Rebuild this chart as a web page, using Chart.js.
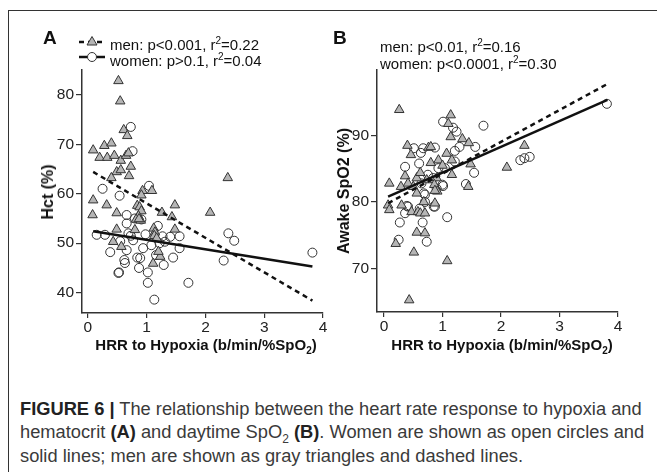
<!DOCTYPE html>
<html>
<head>
<meta charset="utf-8">
<script src="https://cdn.jsdelivr.net/npm/chart.js@4.4.0/dist/chart.umd.min.js"></script>
<style>
  body { margin: 0; background: #fff; font-family: "Liberation Sans", Arial, sans-serif; }
  #page { position: relative; width: 657px; height: 472px; overflow: hidden; }
  .frame-top { position: absolute; left: 8px; top: 10px; width: 660px; height: 0; border-top: 1.5px solid #333; }
  .frame-left { position: absolute; left: 8px; top: 10px; width: 0; height: 480px; border-left: 1.5px solid #333; }
  .canvas-box { position: absolute; top: 0; height: 340px; }
  .lbl { position: absolute; white-space: nowrap; color: #111; }
  .panel { font-weight: bold; font-size: 19px; }
  .leg { font-size: 15px; line-height: 16px; }
  .ytitle { font-weight: bold; font-size: 16px; transform: translate(-50%, -50%) rotate(-90deg); }
  .xtitle { font-weight: bold; font-size: 15px; transform: translateX(-50%); }
  .caption { position: absolute; left: 20px; font-size: 18.3px; color: #3a3a3a; white-space: nowrap; }
  .caption b { color: #222; }
</style>
</head>
<body>
<div id="page">
  <div class="frame-top"></div>
  <div class="frame-left"></div>

  <div class="canvas-box" style="left:0; width:330px;"><canvas id="chartA"></canvas></div>
  <div class="canvas-box" style="left:300px; width:325px;"><canvas id="chartB"></canvas></div>

  <!-- rótulos dos painéis -->
  <div class="lbl panel" style="left:43px; top:27px;">A</div>
  <div class="lbl panel" style="left:333px; top:27px;">B</div>

  <!-- legenda A -->
  <svg style="position:absolute; left:76px; top:32px;" width="34" height="34">
    <line x1="3" y1="10" x2="29" y2="10" stroke="#111" stroke-width="2.5" stroke-dasharray="5,4"/>
    <polygon points="16,4.5 21,13 11,13" fill="#b5b5b5" stroke="#333" stroke-width="1"/>
    <line x1="3" y1="25" x2="29" y2="25" stroke="#111" stroke-width="2.5"/>
    <circle cx="16" cy="25" r="4.5" fill="#fff" stroke="#333" stroke-width="1"/>
  </svg>
  <div class="lbl leg" style="left:110px; top:33px;">men: p&lt;0.001, r<sup style="font-size:10px">2</sup>=0.22</div>
  <div class="lbl leg" style="left:110px; top:49px;">women: p&gt;0.1, r<sup style="font-size:10px">2</sup>=0.04</div>

  <!-- legenda B -->
  <div class="lbl leg" style="left:380px; top:35px;">men: p&lt;0.01, r<sup style="font-size:10px">2</sup>=0.16</div>
  <div class="lbl leg" style="left:380px; top:52px;">women: p&lt;0.0001, r<sup style="font-size:10px">2</sup>=0.30</div>

  <!-- títulos dos eixos -->
  <div class="lbl ytitle" style="left:48px; top:192px;">Hct (%)</div>
  <div class="lbl ytitle" style="left:344px; top:191px;">Awake SpO2 (%)</div>
  <div class="lbl xtitle" style="left:206px; top:336px;">HRR to Hypoxia (b/min/%SpO<sub style="font-size:10px">2</sub>)</div>
  <div class="lbl xtitle" style="left:502px; top:336px;">HRR to Hypoxia (b/min/%SpO<sub style="font-size:10px">2</sub>)</div>

  <!-- legenda da figura -->
  <div class="caption" style="top:398px;"><b>FIGURE 6 |</b> The relationship between the heart rate response to hypoxia and</div>
  <div class="caption" style="top:421px;">hematocrit <b>(A)</b> and daytime SpO<sub style="font-size:12px">2</sub> <b>(B)</b>. Women are shown as open circles and</div>
  <div class="caption" style="top:445px;">solid lines; men are shown as gray triangles and dashed lines.</div>
</div>

<script>
// Painel A: HRR x Hct
const hctMenX = [0.52, 0.55, 0.61, 0.67, 0.09, 0.28, 0.40, 0.20, 0.33, 0.45, 0.56, 0.65, 0.69, 0.49, 0.56, 0.40, 0.70, 0.73, 2.38,
  0.09, 0.32, 0.08, 0.49, 0.93, 1.09, 1.48, 2.08, 1.26, 1.43, 0.84, 0.88, 0.91, 0.86, 0.82, 0.90, 0.87,
  0.49, 0.43, 0.57, 0.80, 1.12, 1.14, 1.13, 1.17, 1.23, 1.11, 1.48, 1.20, 0.91];
const hctMenY = [82.8, 78.7, 72.9, 71.7, 68.8, 69.7, 70.2, 67.3, 67.3, 67.7, 66.7, 67.7, 68.2, 64.4, 64.8, 63.2, 63.6, 65.5, 63.2,
  58.7, 57.7, 55.7, 56.1, 60.6, 60.6, 57.7, 56.2, 56.2, 55.3, 57.6, 57.3, 56.5, 55.5, 54.8, 54.6, 54.9,
  52.8, 50.3, 49.3, 52.7, 53.0, 52.2, 51.5, 51.0, 47.3, 45.9, 52.8, 48.3, 59.7];
const hctWomenX = [0.73, 0.76, 0.25, 0.54, 1.04, 0.15, 0.29, 0.38, 0.55, 0.66, 0.66, 0.69, 0.77, 0.66, 0.62, 0.63, 0.52, 0.53,
  0.84, 0.89, 0.87, 0.94, 1.02, 1.02, 1.13, 1.29, 1.45, 1.56, 1.56, 1.40, 1.27, 1.19, 1.08, 1.16, 1.31, 1.71,
  2.31, 2.39, 2.49, 3.82, 0.80, 0.91, 0.73, 0.98, 1.22];
const hctWomenY = [73.5, 68.6, 61.0, 59.6, 61.6, 51.7, 51.7, 48.2, 50.4, 55.7, 54.0, 52.0, 50.6, 48.6, 46.6, 46.0, 44.0, 44.1,
  47.1, 47.0, 45.0, 49.0, 44.1, 42.0, 38.6, 45.6, 47.1, 49.0, 51.4, 51.3, 51.4, 53.5, 49.6, 47.6, 50.3, 42.0,
  46.5, 52.0, 50.5, 48.1, 55.0, 54.8, 51.5, 51.8, 50.0];
const hctMenFitX = [0.09, 3.82];
const hctMenFitY = [64.4, 38.4];
const hctWomenFitX = [0.09, 3.82];
const hctWomenFitY = [52.4, 45.3];
const hctTicks = [40, 50, 60, 70, 80];

// Painel B: HRR x SpO2 acordado
const spoMenX = [0.26, 1.14, 1.10, 1.14, 1.34, 1.45, 0.40, 0.46, 0.76, 0.80, 1.07, 1.16, 0.80, 0.93, 1.48, 2.40, 2.10,
  0.09, 0.29, 0.36, 0.56, 0.41, 0.50, 0.73, 0.90, 1.16, 0.86, 0.91, 1.44, 0.56, 0.07, 0.09, 0.30, 0.68, 0.87, 0.87,
  0.47, 0.58, 0.62, 0.70, 0.56, 0.70, 0.20, 0.51, 1.08, 0.43, 0.62, 1.00];
const spoMenY = [93.9, 93.1, 91.8, 89.8, 89.5, 88.9, 88.5, 87.1, 88.2, 88.3, 87.3, 86.3, 85.9, 86.3, 85.7, 88.5, 85.2,
  82.8, 82.3, 83.9, 83.6, 82.8, 82.3, 83.3, 83.6, 84.1, 82.6, 81.6, 82.3, 81.3, 79.5, 78.8, 79.5, 80.0, 81.7, 79.8,
  78.5, 78.5, 78.3, 78.3, 75.4, 75.3, 73.7, 72.4, 71.1, 65.2, 84.4, 85.5];
const spoWomenX = [3.81, 1.70, 1.01, 1.18, 1.24, 1.21, 1.29, 1.56, 0.51, 0.63, 0.67, 0.87, 2.33, 2.40, 2.49, 0.36, 0.60,
  0.75, 0.93, 1.04, 1.21, 1.54, 1.40, 1.01, 0.84, 0.64, 0.90, 0.68, 0.70, 0.87, 0.41, 1.08, 0.27, 0.39, 0.36, 0.66,
  0.25, 0.73, 1.00, 0.85, 0.70, 0.61];
const spoWomenY = [94.8, 91.5, 92.1, 91.2, 90.6, 87.7, 88.3, 88.3, 88.1, 87.4, 88.1, 88.2, 86.3, 86.6, 86.8, 85.3, 85.8,
  84.1, 85.1, 85.1, 86.1, 84.4, 82.7, 82.4, 83.6, 82.8, 82.0, 81.3, 80.0, 79.3, 79.3, 77.7, 76.9, 79.4, 78.3, 76.9,
  74.3, 74.0, 82.6, 79.3, 81.1, 79.0];
const spoMenFitX = [0.07, 3.82];
const spoMenFitY = [79.8, 97.8];
const spoWomenFitX = [0.07, 3.82];
const spoWomenFitY = [80.8, 95.4];
const spoTicks = [70, 80, 90];

const xTicks = [0, 1, 2, 3, 4];

const AXIS_COLOR = '#333';
const TRI_FILL = '#b5b5b5';

function toPoints(xs, ys) {
    return xs.map((x, i) => ({ x: x, y: ys[i] }));
}

// Cria um painel de dispersão com as duas retas de regressão
function createPanel(canvasId, cfg) {
    const ctx = document.getElementById(canvasId);
    return new Chart(ctx, {
        type: 'scatter',
        data: {
            datasets: [
                {
                    label: 'men fit',
                    type: 'line',
                    data: toPoints(cfg.menFitX, cfg.menFitY),
                    borderColor: '#111',
                    borderWidth: 2.5,
                    borderDash: [5, 4],
                    pointRadius: 0,
                    fill: false,
                    order: 0
                },
                {
                    label: 'women fit',
                    type: 'line',
                    data: toPoints(cfg.womenFitX, cfg.womenFitY),
                    borderColor: '#111',
                    borderWidth: 2.5,
                    pointRadius: 0,
                    fill: false,
                    order: 0
                },
                {
                    label: 'men',
                    data: toPoints(cfg.menX, cfg.menY),
                    pointStyle: 'triangle',
                    pointRadius: 5.5,
                    backgroundColor: TRI_FILL,
                    borderColor: AXIS_COLOR,
                    borderWidth: 1,
                    order: 1
                },
                {
                    label: 'women',
                    data: toPoints(cfg.womenX, cfg.womenY),
                    pointStyle: 'circle',
                    pointRadius: 4.5,
                    backgroundColor: 'rgba(255,255,255,0)',
                    borderColor: AXIS_COLOR,
                    borderWidth: 1,
                    order: 1
                }
            ]
        },
        options: {
            responsive: false,
            animation: false,
            clip: false,
            layout: { padding: { top: 70, right: 7, left: 0, bottom: 0 } },
            plugins: { legend: { display: false }, tooltip: { enabled: false } },
            scales: {
                x: {
                    type: 'linear',
                    min: cfg.xMin,
                    max: 4,
                    afterBuildTicks: s => { s.ticks = xTicks.map(v => ({ value: v })); },
                    afterFit: s => { s.height = cfg.xHeight; },
                    grid: { drawOnChartArea: false, drawTicks: true, tickLength: 5, color: AXIS_COLOR, lineWidth: 1.2 },
                    border: { display: true, color: AXIS_COLOR, width: 1.5 },
                    ticks: { color: '#222', padding: 0, font: { family: 'Liberation Sans', size: 15.5 } }
                },
                y: {
                    type: 'linear',
                    min: cfg.yMin,
                    max: cfg.yMax,
                    afterBuildTicks: s => { s.ticks = cfg.yTicks.map(v => ({ value: v })); },
                    afterFit: s => { s.width = cfg.yWidth; },
                    grid: { drawOnChartArea: false, drawTicks: true, tickLength: 6, color: AXIS_COLOR, lineWidth: 1.2 },
                    border: { display: true, color: AXIS_COLOR, width: 1.5 },
                    ticks: { color: '#222', padding: 2, font: { family: 'Liberation Sans', size: 15.5 } }
                }
            }
        }
    });
}

function setSize(id, w, h) {
    const c = document.getElementById(id);
    c.width = w; c.height = h;
    c.style.width = w + 'px'; c.style.height = h + 'px';
}

setSize('chartA', 330, 340);
setSize('chartB', 325, 340);

createPanel('chartA', {
    menX: hctMenX, menY: hctMenY, womenX: hctWomenX, womenY: hctWomenY,
    menFitX: hctMenFitX, menFitY: hctMenFitY, womenFitX: hctWomenFitX, womenFitY: hctWomenFitY,
    yTicks: hctTicks, yMin: 35.9, yMax: 85, xMin: -0.1, yWidth: 82, xHeight: 27
});

createPanel('chartB', {
    menX: spoMenX, menY: spoMenY, womenX: spoWomenX, womenY: spoWomenY,
    menFitX: spoMenFitX, menFitY: spoMenFitY, womenFitX: spoWomenFitX, womenFitY: spoWomenFitY,
    yTicks: spoTicks, yMin: 63.4, yMax: 99.9, xMin: -0.12, yWidth: 77, xHeight: 28
});
</script>
</body>
</html>
